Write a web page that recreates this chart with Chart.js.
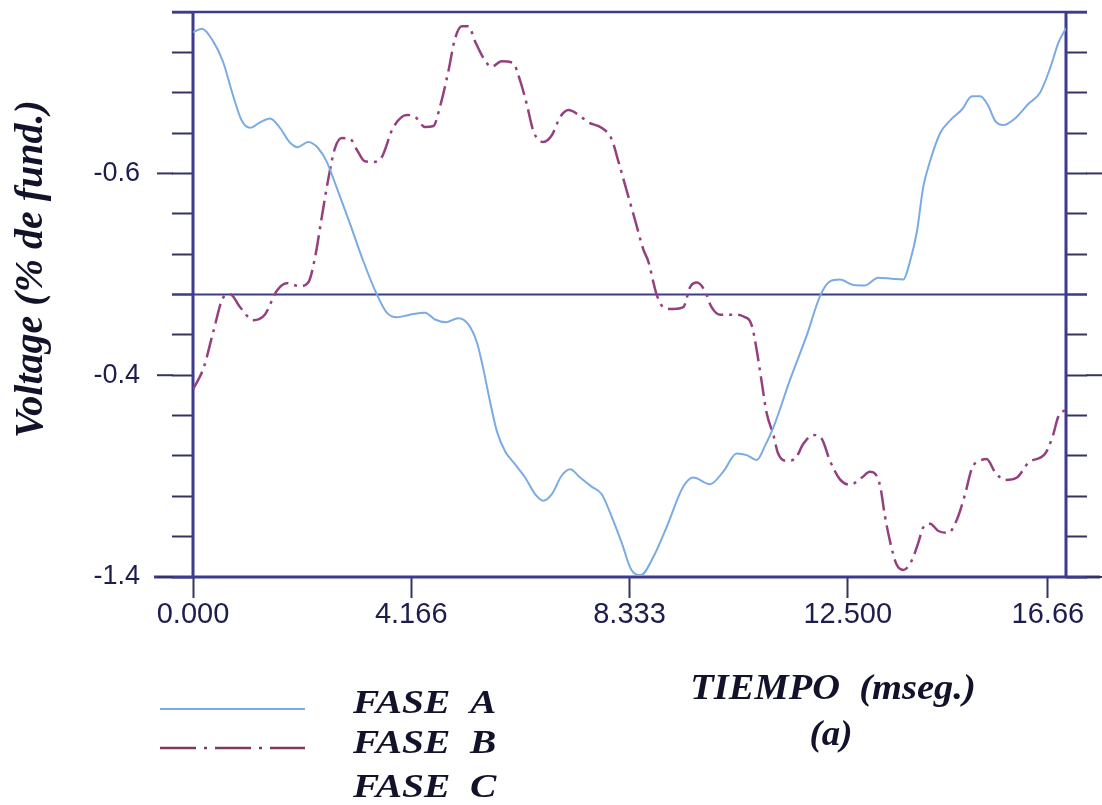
<!DOCTYPE html>
<html>
<head>
<meta charset="utf-8">
<title>Voltage (% de fund.) - TIEMPO (mseg.)</title>
<script src="https://cdn.jsdelivr.net/npm/chart.js@4.4.1/dist/chart.umd.min.js"></script>
<style>
  html, body { margin: 0; padding: 0; background: #ffffff; }
  #chart { display: block; }
</style>
</head>
<body>
<canvas id="chart" width="1102" height="805"></canvas>
<script>
// values (time in ms, voltage in p.u.)
const faseATime = [0, 0.17, 0.38, 0.57, 0.76, 0.93, 1.09, 1.28, 1.47, 1.66, 1.85, 2.0, 2.2, 2.39, 2.55, 2.74, 3.0, 3.25, 3.51, 3.7, 3.89, 4.14, 4.43, 4.62, 4.84, 5.06, 5.25, 5.42, 5.54, 5.67, 5.8, 5.96, 6.15, 6.34, 6.53, 6.69, 6.85, 7.04, 7.2, 7.39, 7.61, 7.8, 7.99, 8.18, 8.37, 8.55, 8.79, 9.04, 9.36, 9.55, 9.87, 10.12, 10.38, 10.57, 10.76, 10.92, 11.08, 11.4, 11.72, 11.97, 12.16, 12.35, 12.61, 12.83, 13.08, 13.34, 13.56, 13.69, 13.82, 13.94, 14.07, 14.26, 14.45, 14.68, 14.87, 15.03, 15.18, 15.31, 15.47, 15.69, 15.95, 16.17, 16.36, 16.52, 16.666];
const faseAVolt = [1.3, 1.317, 1.257, 1.156, 0.99, 0.862, 0.826, 0.853, 0.872, 0.826, 0.753, 0.73, 0.756, 0.725, 0.66, 0.532, 0.349, 0.166, 0.0, -0.09, -0.113, -0.1, -0.09, -0.124, -0.137, -0.118, -0.146, -0.238, -0.366, -0.53, -0.677, -0.778, -0.842, -0.907, -0.989, -1.022, -0.989, -0.897, -0.866, -0.907, -0.952, -0.989, -1.099, -1.227, -1.365, -1.39, -1.3, -1.154, -0.952, -0.907, -0.94, -0.879, -0.788, -0.796, -0.82, -0.75, -0.659, -0.421, -0.2, -0.008, 0.065, 0.074, 0.047, 0.045, 0.083, 0.078, 0.074, 0.166, 0.312, 0.532, 0.66, 0.798, 0.862, 0.917, 0.982, 0.982, 0.936, 0.862, 0.84, 0.872, 0.945, 1.0, 1.119, 1.247, 1.32];

const faseBTime = [0, 0.2, 0.39, 0.58, 0.71, 0.9, 1.15, 1.37, 1.6, 1.79, 2.04, 2.2, 2.33, 2.46, 2.58, 2.71, 2.84, 3.0, 3.13, 3.28, 3.44, 3.6, 3.82, 4.08, 4.24, 4.43, 4.59, 4.72, 4.87, 5.0, 5.13, 5.26, 5.38, 5.54, 5.7, 5.89, 6.11, 6.24, 6.37, 6.5, 6.69, 6.85, 7.01, 7.17, 7.36, 7.55, 7.8, 7.99, 8.12, 8.28, 8.44, 8.6, 8.69, 8.85, 8.98, 9.17, 9.36, 9.49, 9.62, 9.77, 9.9, 10.06, 10.32, 10.51, 10.67, 10.76, 10.86, 10.95, 11.08, 11.17, 11.33, 11.49, 11.65, 11.84, 12.0, 12.16, 12.35, 12.54, 12.77, 12.92, 13.02, 13.12, 13.21, 13.31, 13.43, 13.56, 13.72, 13.85, 13.94, 14.07, 14.23, 14.42, 14.58, 14.74, 14.87, 15.02, 15.15, 15.31, 15.5, 15.73, 15.95, 16.27, 16.42, 16.52, 16.666];
const faseBVolt = [-0.47, -0.366, -0.182, -0.014, 0.001, -0.063, -0.127, -0.1, 0.019, 0.056, 0.041, 0.059, 0.184, 0.386, 0.569, 0.725, 0.775, 0.771, 0.716, 0.66, 0.657, 0.679, 0.826, 0.89, 0.88, 0.83, 0.835, 0.936, 1.1, 1.266, 1.33, 1.33, 1.257, 1.174, 1.128, 1.156, 1.147, 1.064, 0.945, 0.808, 0.756, 0.789, 0.88, 0.914, 0.89, 0.853, 0.826, 0.771, 0.66, 0.514, 0.368, 0.221, 0.166, 0.001, -0.063, -0.072, -0.063, 0.037, 0.059, 0.019, -0.063, -0.1, -0.1, -0.109, -0.155, -0.274, -0.439, -0.586, -0.696, -0.788, -0.824, -0.815, -0.741, -0.696, -0.714, -0.824, -0.916, -0.943, -0.907, -0.879, -0.888, -0.952, -1.099, -1.227, -1.337, -1.365, -1.319, -1.227, -1.154, -1.136, -1.172, -1.181, -1.117, -0.989, -0.861, -0.824, -0.815, -0.879, -0.919, -0.907, -0.833, -0.788, -0.696, -0.604, -0.57];

const xTickValues = [0, 4.166, 8.333, 12.5, 16.32];
const xTickLabels = ["0.000", "4.166", "8.333", "12.500", "16.66"];
const yLabelValues = [-1.4, -0.4, 0.6];
const yLabelTexts = ["-1.4", "-0.4", "-0.6"];
const legendLabels = ["FASE  A", "FASE  B", "FASE  C"];
const xTitle = "TIEMPO  (mseg.)";
const xSubTitle = "(a)";
const yTitle = "Voltage (% de fund.)";

const axisColor = "#3d3b8e";
const tickColor = "#34345e";
const labelColor = "#1d1d4e";
const titleColor = "#12122a";
const colorA = "#7aabe2";
const colorB = "#94407f";
const serif = "'Liberation Serif', 'DejaVu Serif', serif";

function toPoints(xs, ys) {
    return xs.map((x, i) => ({ x: x, y: ys[i] }));
}

function hline(ctx, x1, x2, y, w) {
    ctx.lineWidth = w;
    ctx.beginPath();
    ctx.moveTo(x1, y);
    ctx.lineTo(x2, y);
    ctx.stroke();
}

function vline(ctx, x, y1, y2, w) {
    ctx.lineWidth = w;
    ctx.beginPath();
    ctx.moveTo(x, y1);
    ctx.lineTo(x, y2);
    ctx.stroke();
}

// the scan is a bit wider than a normal Times face, so stretch horizontally
function wideText(ctx, text, x, y, sx) {
    ctx.save();
    ctx.translate(x, y);
    ctx.scale(sx, 1);
    ctx.fillText(text, 0, 0);
    ctx.restore();
}

function yLabelFor(value) {
    const i = yLabelValues.findIndex(v => Math.abs(v - value) < 1e-6);
    return i >= 0 ? yLabelTexts[i] : "";
}

function noPadding(scale) {
    scale.paddingTop = 0;
    scale.paddingBottom = 0;
    scale.paddingLeft = 0;
    scale.paddingRight = 0;
}

// frame, extra tick marks, titles and legend
const framePlugin = {
    id: "frame",
    beforeDatasetsDraw(chart) {
        const ctx = chart.ctx;
        const y = chart.scales.y;
        const left = chart.chartArea.left;
        const right = chart.chartArea.right;
        const top = y.getPixelForValue(1.4);
        const zero = y.getPixelForValue(0);
        const bottom = y.getPixelForValue(-1.4);

        ctx.save();
        ctx.strokeStyle = axisColor;
        hline(ctx, left - 21, right + 21, top, 2.5);
        hline(ctx, left - 21, right + 21, zero, 2);
        hline(ctx, left - 39, chart.width - 2, bottom, 3);
        vline(ctx, left, top, bottom, 3);
        vline(ctx, right, top, bottom, 3);

        ctx.strokeStyle = tickColor;
        yLabelValues.forEach(v => {
            const py = y.getPixelForValue(v);
            hline(ctx, left - 36, left - 20, py, 2);
            hline(ctx, right + 20, right + 36, py, 2);
        });
        ctx.restore();
    },
    afterDraw(chart) {
        const ctx = chart.ctx;
        ctx.save();
        ctx.fillStyle = titleColor;
        ctx.font = "bold italic 40px " + serif;
        ctx.textAlign = "center";
        ctx.textBaseline = "alphabetic";

        ctx.save();
        ctx.translate(42, 269);
        ctx.rotate(-Math.PI / 2);
        ctx.fillText(yTitle, 0, 0);
        ctx.restore();

        ctx.font = "bold italic 35px " + serif;
        wideText(ctx, xTitle, 833, 699, 1.1);
        wideText(ctx, xSubTitle, 831, 745, 1.05);

        ctx.textAlign = "left";
        ctx.font = "bold italic 34px " + serif;
        const baselines = [713, 753, 797];
        legendLabels.forEach((label, i) => wideText(ctx, label, 353, baselines[i], 1.16));

        ctx.strokeStyle = colorA;
        hline(ctx, 160, 305, 709, 2);
        ctx.strokeStyle = "#7e3a5c";
        ctx.setLineDash([36, 8, 3, 8]);
        hline(ctx, 160, 305, 748, 2.5);
        ctx.setLineDash([]);
        ctx.restore();
    }
};

const chart = new Chart(document.getElementById("chart").getContext("2d"), {
    type: "line",
    data: {
        datasets: [
            {
                label: legendLabels[0],
                data: toPoints(faseATime, faseAVolt),
                borderColor: colorA,
                borderWidth: 2,
                pointRadius: 0,
                cubicInterpolationMode: "monotone",
                fill: false
            },
            {
                label: legendLabels[1],
                data: toPoints(faseBTime, faseBVolt),
                borderColor: colorB,
                borderWidth: 2.5,
                borderDash: [20, 6, 3, 6],
                pointRadius: 0,
                cubicInterpolationMode: "monotone",
                fill: false
            }
        ]
    },
    options: {
        responsive: false,
        devicePixelRatio: 1,
        animation: false,
        layout: { padding: { top: 12, left: 0, right: 0, bottom: 0 } },
        plugins: {
            legend: { display: false },
            tooltip: { enabled: false }
        },
        scales: {
            x: {
                type: "linear",
                position: "bottom",
                min: 0,
                max: 16.666,
                afterBuildTicks: scale => {
                    scale.ticks = xTickValues.map(v => ({ value: v }));
                },
                afterFit: scale => {
                    scale.height = 228;
                    noPadding(scale);
                },
                ticks: {
                    autoSkip: false,
                    maxRotation: 0,
                    padding: 0,
                    color: labelColor,
                    font: { family: "'Liberation Sans', Arial, sans-serif", size: 29 },
                    callback: (value, index) => xTickLabels[index]
                },
                grid: {
                    drawOnChartArea: false,
                    drawTicks: true,
                    tickLength: 21,
                    tickWidth: 2,
                    tickColor: tickColor
                },
                border: { display: false }
            },
            y: {
                type: "linear",
                position: "left",
                min: -1.4,
                max: 1.4,
                afterFit: scale => {
                    scale.width = 193;
                    noPadding(scale);
                },
                ticks: {
                    stepSize: 0.2,
                    autoSkip: false,
                    padding: 32,
                    color: labelColor,
                    font: { family: "'Liberation Sans', Arial, sans-serif", size: 27 },
                    callback: value => yLabelFor(value)
                },
                grid: {
                    drawOnChartArea: false,
                    drawTicks: true,
                    tickLength: 21,
                    tickWidth: 2,
                    tickColor: tickColor
                },
                border: { display: false }
            },
            y2: {
                type: "linear",
                position: "right",
                min: -1.4,
                max: 1.4,
                afterFit: scale => {
                    scale.width = 36;
                    noPadding(scale);
                },
                ticks: {
                    stepSize: 0.2,
                    autoSkip: false,
                    padding: 0,
                    callback: () => ""
                },
                grid: {
                    drawOnChartArea: false,
                    drawTicks: true,
                    tickLength: 21,
                    tickWidth: 2,
                    tickColor: tickColor
                },
                border: { display: false }
            }
        }
    },
    plugins: [framePlugin]
});
</script>
</body>
</html>
